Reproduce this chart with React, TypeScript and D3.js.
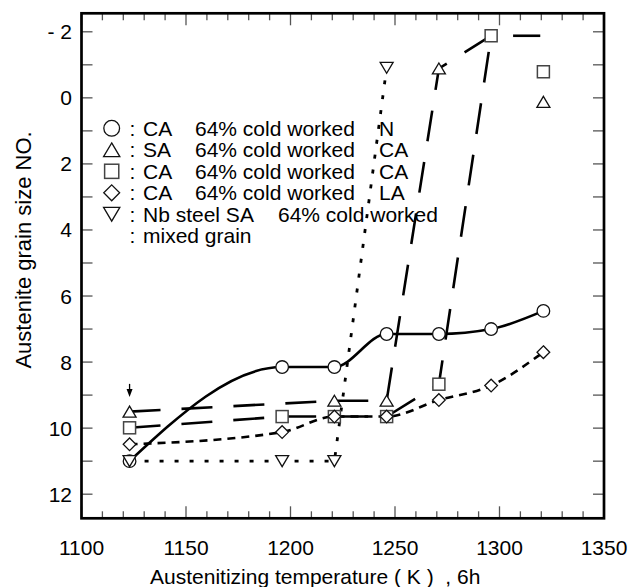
import React from 'react';
import * as d3 from 'd3';

// Austenitizing temperature (K) for each series
const temps = [1123, 1196, 1221, 1246, 1271, 1296, 1321];
// CA 64% cold worked, N
const nGrain = [11.0, 8.15, 8.15, 7.15, 7.15, 7.0, 6.45];
// SA 64% cold worked, CA (last point shares the square's position)
const saTemps = [1123, 1221, 1246, 1271, 1296];
const saGrain = [9.5, 9.17, 9.17, -0.89, -1.88];
const saMarked = 4;
// CA 64% cold worked, CA
const caTemps = [1123, 1196, 1221, 1246, 1271, 1296];
const caGrain = [9.99, 9.65, 9.65, 9.65, 8.67, -1.88];
// CA 64% cold worked, LA
const laGrain = [10.49, 10.12, 9.65, 9.65, 9.15, 8.71, 7.7];
// Nb steel SA 64% cold worked
const nbTemps = [1123, 1196, 1221, 1246];
const nbGrain = [11.0, 11.0, 11.0, -0.91];
// coarse-grain plateau after 1296 K
const plateauTemps = [1306.5, 1319.5];
const plateauGrain = -1.88;
// separate points at 1321 K (no connecting line)
const loneSquare = { t: 1321, g: -0.79 };
const loneTriangle = { t: 1321, g: 0.12 };
// mixed-grain arrow at 1123 K
const arrowT = 1123;
const arrowFrom = 8.66;
const arrowTo = 9.06;

const xTicksMinor = d3.range(1100, 1351, 10);
const xTickLabels = [1100, 1150, 1200, 1250, 1300, 1350];
const yTicksMinor = d3.range(-2, 13, 1);
const yTickLabels = [-2, 0, 2, 4, 6, 8, 10, 12];

const legendRows = [
  { sym: 'circle', a: 'CA', b: '64% cold worked', c: 'N' },
  { sym: 'tri', a: 'SA', b: '64% cold worked', c: 'CA' },
  { sym: 'square', a: 'CA', b: '64% cold worked', c: 'CA' },
  { sym: 'diamond', a: 'CA', b: '64% cold worked', c: 'LA' },
  { sym: 'itri', a: 'Nb steel SA', b: '64% cold worked', c: '' },
  { sym: '', a: 'mixed grain', b: '', c: '' },
];

const W = 644;
const H = 587;
const left = 81.5;
const right = 604;
const top = 13.3;
const bottom = 518.3;

const x = d3.scaleLinear().domain([1100, 1350]).range([left, right]);
const y = d3.scaleLinear().domain([-2.56, 12.73]).range([top, bottom]);

const FONT = "'Liberation Sans', Arial, Helvetica, sans-serif";
const FS = 21;

function triUp(cx: number, cy: number, w: number, h: number) {
  return `M${cx},${cy - h / 2}L${cx + w / 2},${cy + h / 2}L${cx - w / 2},${cy + h / 2}Z`;
}
function triDown(cx: number, cy: number, w: number, h: number) {
  return `M${cx - w / 2},${cy - h / 2}L${cx + w / 2},${cy - h / 2}L${cx},${cy + h / 2}Z`;
}
function diamond(cx: number, cy: number, w: number, h: number) {
  return `M${cx},${cy - h / 2}L${cx + w / 2},${cy}L${cx},${cy + h / 2}L${cx - w / 2},${cy}Z`;
}

function Marker({ sym, cx, cy, big }: { sym: string; cx: number; cy: number; big?: boolean }) {
  const k = big ? 1.25 : 1;
  const common = { fill: '#fff', stroke: '#111', strokeWidth: 1.3 };
  if (sym === 'circle') return <circle cx={cx} cy={cy} r={6.3 * k} {...common} />;
  if (sym === 'square') {
    const s = 12 * (big ? 1.18 : 1);
    return <rect x={cx - s / 2} y={cy - s / 2} width={s} height={s} fill="#fff" stroke="#444" strokeWidth={1.5} />;
  }
  if (sym === 'tri') return <path d={triUp(cx, cy, 13 * k, 11 * k)} {...common} />;
  if (sym === 'itri') return <path d={triDown(cx, cy, 13 * k, 11 * k)} {...common} />;
  if (sym === 'diamond') return <path d={diamond(cx, cy, 12.7 * k, 12.7 * k)} {...common} />;
  return null;
}

export default function App() {
  const lineLinear = d3
    .line<[number, number]>()
    .x((d) => x(d[0]))
    .y((d) => y(d[1]));
  const lineMono = d3
    .line<[number, number]>()
    .x((d) => x(d[0]))
    .y((d) => y(d[1]))
    .curve(d3.curveMonotoneX);

  const nPts = temps.map((t, i) => [t, nGrain[i]] as [number, number]);
  const saPts = saTemps.map((t, i) => [t, saGrain[i]] as [number, number]);
  const caPts = caTemps.map((t, i) => [t, caGrain[i]] as [number, number]);
  const laPts = temps.map((t, i) => [t, laGrain[i]] as [number, number]);
  const nbPts = nbTemps.map((t, i) => [t, nbGrain[i]] as [number, number]);
  const plateauPts = plateauTemps.map((t) => [t, plateauGrain] as [number, number]);

  const ax = x(arrowT);
  const ay0 = y(arrowFrom);
  const ay1 = y(arrowTo);

  const legendX = 111.7;
  const legendBase = 135.5;
  const legendStep = 21.5;

  return (
    <svg
      width={W}
      height={H}
      viewBox={`0 0 ${W} ${H}`}
      style={{ position: 'absolute', left: 0, top: 0, background: '#fff' }}
      fontFamily={FONT}
    >
      <rect x={0} y={0} width={W} height={H} fill="#fff" />

      {/* ticks */}
      <g stroke="#555" strokeWidth={1.3}>
        {xTicksMinor.map((t) => {
          const major = t % 50 === 0;
          const len = major ? 12 : 7;
          return (
            <g key={`xt${t}`}>
              <line x1={x(t)} x2={x(t)} y1={bottom} y2={bottom - len} />
              <line x1={x(t)} x2={x(t)} y1={top} y2={top + len} />
            </g>
          );
        })}
        {yTicksMinor.map((v) => (
          <g key={`yt${v}`}>
            <line x1={left} x2={left + 11} y1={y(v)} y2={y(v)} />
            <line x1={right} x2={right - 11} y1={y(v)} y2={y(v)} />
          </g>
        ))}
      </g>

      {/* series lines */}
      <path d={lineMono(laPts) || ''} fill="none" stroke="#000" strokeWidth={2.6} strokeDasharray="8,6" />
      <path d={lineLinear(caPts) || ''} fill="none" stroke="#000" strokeWidth={2.6} strokeDasharray="31,21" />
      <path d={lineLinear(saPts) || ''} fill="none" stroke="#000" strokeWidth={2.6} strokeDasharray="31,21" />
      <path d={lineLinear(plateauPts) || ''} fill="none" stroke="#000" strokeWidth={2.6} />
      <path d={lineLinear(nbPts) || ''} fill="none" stroke="#000" strokeWidth={2.8} strokeDasharray="4,11" />
      <path d={lineMono(nPts) || ''} fill="none" stroke="#000" strokeWidth={2.6} />

      {/* markers */}
      {nPts.map((d, i) => (
        <Marker key={`c${i}`} sym="circle" cx={x(d[0])} cy={y(d[1])} />
      ))}
      {saPts.slice(0, saMarked).map((d, i) => (
        <Marker key={`t${i}`} sym="tri" cx={x(d[0])} cy={y(d[1])} />
      ))}
      {caPts.map((d, i) => (
        <Marker key={`s${i}`} sym="square" cx={x(d[0])} cy={y(d[1])} />
      ))}
      {laPts.map((d, i) => (
        <Marker key={`d${i}`} sym="diamond" cx={x(d[0])} cy={y(d[1])} />
      ))}
      {nbPts.map((d, i) => (
        <Marker key={`n${i}`} sym="itri" cx={x(d[0])} cy={y(d[1])} />
      ))}
      <Marker sym="square" cx={x(loneSquare.t)} cy={y(loneSquare.g)} />
      <Marker sym="tri" cx={x(loneTriangle.t)} cy={y(loneTriangle.g)} />

      {/* mixed grain arrow */}
      <line x1={ax} x2={ax} y1={ay0} y2={ay1 - 6} stroke="#000" strokeWidth={1.3} />
      <path d={`M${ax - 3},${ay1 - 8}L${ax + 3},${ay1 - 8}L${ax},${ay1}Z`} fill="#000" />

      {/* frame */}
      <rect x={left} y={top} width={right - left} height={bottom - top} fill="none" stroke="#000" strokeWidth={2.7} />

      {/* tick labels */}
      {xTickLabels.map((t) => (
        <text key={`xl${t}`} x={x(t)} y={555} textAnchor="middle" fontSize={FS} fill="#000">
          {t}
        </text>
      ))}
      {yTickLabels.map((v) => (
        <text key={`yl${v}`} x={72} y={y(v) + 7.5} textAnchor="end" fontSize={FS} fill="#000" style={{ whiteSpace: 'pre' }}>
          {v < 0 ? `- ${Math.abs(v)}` : String(v)}
        </text>
      ))}

      {/* axis titles */}
      <text x={150} y={584} textAnchor="start" fontSize={FS} fill="#000" style={{ whiteSpace: 'pre' }}>
        {'Austenitizing temperature ( K )  , 6h'}
      </text>
      <text transform={`translate(31,250) rotate(-90)`} textAnchor="middle" fontSize={22} fill="#000">
        Austenite grain size NO.
      </text>

      {/* legend */}
      {legendRows.map((r, i) => {
        const base = legendBase + i * legendStep;
        const cy = base - 7.2;
        const bx = r.sym === 'itri' ? 278 : 195;
        return (
          <g key={`lg${i}`} fontSize={FS} fill="#000">
            {r.sym && <Marker sym={r.sym} cx={legendX} cy={cy} big />}
            <text x={129.5} y={base}>:</text>
            <text x={143} y={base}>{r.a}</text>
            {r.b && <text x={bx} y={base}>{r.b}</text>}
            {r.c && <text x={379} y={base}>{r.c}</text>}
          </g>
        );
      })}
    </svg>
  );
}
